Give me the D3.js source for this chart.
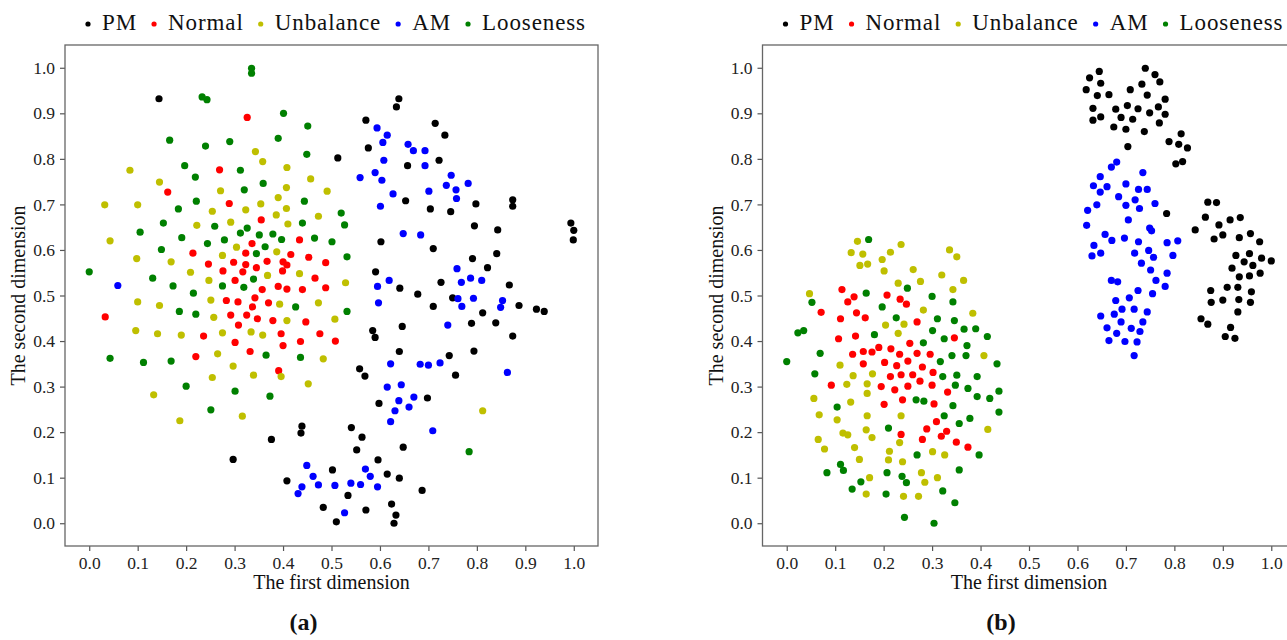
<!DOCTYPE html>
<html>
<head>
<meta charset="utf-8">
<script src="https://cdn.jsdelivr.net/npm/d3@7/dist/d3.min.js"></script>
<style>
  body { margin: 0; background: #fff; }
  text { font-family: 'Liberation Serif', 'Times New Roman', serif; fill: #111; }
</style>
</head>
<body>
<div id="chart"></div>
<script>
const classNames = ['PM', 'Normal', 'Unbalance', 'AM', 'Looseness']
const classColors = ['#000000', '#ff0000', '#bfbf00', '#0000ff', '#008000']
const tickValues = [0, 0.1, 0.2, 0.3, 0.4, 0.5, 0.6, 0.7, 0.8, 0.9, 1.0]
const xTitle = 'The first dimension'
const yTitle = 'The second dimension'
const captions = ['(a)', '(b)']

// panel (a)
const aPM = [[0.144,0.932],[0.513,0.802],[0.639,0.932],[0.634,0.914],[0.571,0.885],[0.714,0.878],[0.734,0.852],[0.576,0.824],[0.722,0.797],[0.657,0.785],[0.653,0.708],[0.704,0.690],[0.746,0.684],[0.798,0.701],[0.874,0.710],[0.874,0.696],[0.795,0.653],[0.843,0.644],[0.994,0.659],[1.000,0.643],[0.999,0.622],[0.602,0.618],[0.710,0.603],[0.791,0.581],[0.841,0.592],[0.822,0.561],[0.591,0.552],[0.439,0.213],[0.437,0.198],[0.376,0.184],[0.297,0.140],[0.408,0.093],[0.483,0.035],[0.641,0.516],[0.726,0.529],[0.867,0.523],[0.678,0.503],[0.750,0.495],[0.710,0.476],[0.887,0.478],[0.923,0.470],[0.939,0.465],[0.812,0.462],[0.585,0.423],[0.590,0.408],[0.646,0.432],[0.789,0.439],[0.839,0.440],[0.874,0.411],[0.640,0.377],[0.743,0.368],[0.794,0.378],[0.756,0.325],[0.558,0.339],[0.569,0.323],[0.698,0.275],[0.598,0.263],[0.541,0.210],[0.563,0.189],[0.552,0.161],[0.648,0.167],[0.596,0.139],[0.502,0.117],[0.615,0.108],[0.640,0.099],[0.687,0.072],[0.534,0.061],[0.571,0.029],[0.624,0.042],[0.633,0.018],[0.629,0.000],[0.510,0.003]]
const aNormal = [[0.326,0.891],[0.269,0.776],[0.162,0.727],[0.289,0.702],[0.355,0.666],[0.434,0.622],[0.336,0.614],[0.214,0.593],[0.323,0.593],[0.416,0.590],[0.453,0.584],[0.246,0.569],[0.298,0.573],[0.323,0.568],[0.345,0.561],[0.367,0.575],[0.400,0.574],[0.408,0.567],[0.488,0.572],[0.276,0.554],[0.317,0.552],[0.399,0.554],[0.466,0.538],[0.301,0.533],[0.357,0.513],[0.390,0.520],[0.408,0.514],[0.440,0.513],[0.488,0.517],[0.342,0.495],[0.283,0.489],[0.307,0.486],[0.337,0.475],[0.370,0.484],[0.033,0.453],[0.292,0.457],[0.325,0.457],[0.347,0.449],[0.379,0.445],[0.447,0.442],[0.308,0.435],[0.236,0.411],[0.396,0.416],[0.476,0.416],[0.301,0.397],[0.400,0.390],[0.436,0.399],[0.508,0.400],[0.332,0.377],[0.220,0.366],[0.391,0.335]]
const aUnbalance = [[0.343,0.816],[0.084,0.775],[0.358,0.794],[0.408,0.781],[0.457,0.756],[0.145,0.749],[0.271,0.730],[0.407,0.737],[0.491,0.729],[0.032,0.699],[0.100,0.699],[0.354,0.701],[0.390,0.715],[0.254,0.685],[0.323,0.688],[0.407,0.691],[0.386,0.677],[0.473,0.674],[0.222,0.654],[0.292,0.661],[0.410,0.657],[0.043,0.620],[0.304,0.606],[0.387,0.596],[0.098,0.581],[0.169,0.574],[0.275,0.588],[0.209,0.551],[0.434,0.548],[0.247,0.533],[0.368,0.544],[0.100,0.486],[0.145,0.478],[0.251,0.490],[0.393,0.481],[0.473,0.484],[0.257,0.452],[0.408,0.445],[0.507,0.448],[0.096,0.423],[0.141,0.416],[0.190,0.413],[0.275,0.418],[0.334,0.420],[0.358,0.413],[0.265,0.372],[0.483,0.361],[0.297,0.345],[0.396,0.322],[0.339,0.325],[0.254,0.320],[0.452,0.306],[0.133,0.282],[0.316,0.235],[0.187,0.225],[0.529,0.528],[0.812,0.247]]
const aAM = [[0.059,0.522],[0.449,0.127],[0.462,0.103],[0.473,0.084],[0.507,0.083],[0.439,0.080],[0.431,0.065],[0.594,0.868],[0.615,0.852],[0.606,0.836],[0.658,0.832],[0.669,0.818],[0.693,0.818],[0.608,0.797],[0.693,0.785],[0.559,0.759],[0.590,0.770],[0.604,0.753],[0.747,0.764],[0.782,0.746],[0.737,0.742],[0.757,0.732],[0.758,0.713],[0.627,0.723],[0.701,0.729],[0.601,0.696],[0.648,0.636],[0.684,0.633],[0.759,0.559],[0.619,0.533],[0.787,0.538],[0.810,0.533],[0.595,0.520],[0.768,0.529],[0.761,0.493],[0.793,0.494],[0.853,0.489],[0.597,0.484],[0.769,0.476],[0.849,0.474],[0.740,0.435],[0.622,0.350],[0.683,0.349],[0.700,0.347],[0.724,0.352],[0.863,0.331],[0.615,0.299],[0.644,0.304],[0.670,0.277],[0.639,0.269],[0.660,0.255],[0.631,0.247],[0.622,0.223],[0.709,0.203],[0.570,0.119],[0.580,0.103],[0.540,0.088],[0.560,0.085],[0.595,0.080],[0.527,0.023]]
const aLooseness = [[0.335,0.999],[0.335,0.988],[0.233,0.936],[0.243,0.930],[0.401,0.900],[0.451,0.872],[0.166,0.841],[0.240,0.828],[0.290,0.838],[0.390,0.845],[0.449,0.810],[0.197,0.785],[0.312,0.775],[0.219,0.760],[0.320,0.732],[0.359,0.746],[0.221,0.707],[0.444,0.707],[0.184,0.690],[0.520,0.681],[0.153,0.659],[0.259,0.652],[0.326,0.648],[0.440,0.659],[0.105,0.639],[0.312,0.637],[0.351,0.633],[0.379,0.635],[0.397,0.623],[0.465,0.626],[0.501,0.618],[0.191,0.627],[0.244,0.614],[0.279,0.622],[0.363,0.607],[0.149,0.601],[0.345,0.592],[0.000,0.552],[0.131,0.538],[0.339,0.536],[0.527,0.655],[0.532,0.585],[0.173,0.521],[0.275,0.521],[0.319,0.518],[0.215,0.505],[0.426,0.475],[0.186,0.465],[0.220,0.459],[0.043,0.362],[0.112,0.353],[0.169,0.356],[0.365,0.369],[0.436,0.364],[0.200,0.301],[0.301,0.290],[0.373,0.279],[0.251,0.249],[0.532,0.465],[0.784,0.157]]

// panel (b)
const bPM = [[0.740,0.999],[0.760,0.985],[0.770,0.969],[0.645,0.992],[0.625,0.978],[0.648,0.966],[0.618,0.952],[0.733,0.964],[0.709,0.952],[0.641,0.939],[0.665,0.941],[0.744,0.940],[0.781,0.931],[0.632,0.911],[0.679,0.909],[0.703,0.917],[0.725,0.910],[0.767,0.914],[0.749,0.901],[0.781,0.898],[0.632,0.885],[0.648,0.892],[0.690,0.891],[0.714,0.887],[0.769,0.879],[0.675,0.870],[0.700,0.865],[0.738,0.860],[0.814,0.855],[0.789,0.838],[0.809,0.832],[0.827,0.824],[0.704,0.827],[0.803,0.789],[0.817,0.794],[0.784,0.680],[0.869,0.705],[0.887,0.704],[0.864,0.672],[0.892,0.655],[0.915,0.666],[0.936,0.671],[0.843,0.644],[0.882,0.624],[0.900,0.633],[0.934,0.627],[0.957,0.636],[0.976,0.618],[0.927,0.588],[0.955,0.592],[0.944,0.574],[0.980,0.582],[1.000,0.576],[0.919,0.560],[0.962,0.566],[0.934,0.541],[0.955,0.543],[0.977,0.549],[0.875,0.511],[0.909,0.518],[0.931,0.518],[0.959,0.508],[0.876,0.485],[0.900,0.490],[0.933,0.491],[0.957,0.485],[0.931,0.464],[0.855,0.449],[0.869,0.437],[0.916,0.430],[0.905,0.410],[0.925,0.406]]
const bNormal = [[0.114,0.513],[0.139,0.497],[0.126,0.486],[0.207,0.501],[0.234,0.492],[0.247,0.481],[0.071,0.463],[0.144,0.462],[0.111,0.449],[0.162,0.451],[0.269,0.442],[0.142,0.411],[0.107,0.405],[0.346,0.407],[0.254,0.395],[0.190,0.386],[0.215,0.383],[0.158,0.377],[0.176,0.376],[0.136,0.371],[0.233,0.371],[0.269,0.373],[0.296,0.371],[0.250,0.356],[0.202,0.353],[0.158,0.350],[0.227,0.346],[0.280,0.343],[0.236,0.326],[0.260,0.326],[0.302,0.331],[0.214,0.322],[0.275,0.312],[0.092,0.303],[0.195,0.300],[0.250,0.301],[0.300,0.303],[0.223,0.293],[0.332,0.288],[0.239,0.271],[0.201,0.261],[0.304,0.262],[0.309,0.223],[0.289,0.207],[0.330,0.202],[0.236,0.195],[0.319,0.191],[0.280,0.184],[0.350,0.178],[0.374,0.167]]
const bUnbalance = [[0.146,0.619],[0.133,0.594],[0.157,0.591],[0.151,0.566],[0.167,0.569],[0.197,0.579],[0.201,0.554],[0.214,0.595],[0.236,0.612],[0.261,0.557],[0.276,0.531],[0.230,0.527],[0.320,0.545],[0.336,0.600],[0.351,0.585],[0.365,0.533],[0.343,0.513],[0.047,0.504],[0.282,0.468],[0.384,0.461],[0.204,0.435],[0.242,0.437],[0.230,0.417],[0.407,0.368],[0.110,0.347],[0.177,0.328],[0.137,0.324],[0.124,0.305],[0.166,0.306],[0.166,0.285],[0.056,0.274],[0.132,0.266],[0.067,0.238],[0.166,0.236],[0.236,0.236],[0.104,0.227],[0.164,0.205],[0.415,0.206],[0.116,0.198],[0.126,0.194],[0.176,0.188],[0.065,0.184],[0.233,0.177],[0.078,0.163],[0.140,0.166],[0.212,0.158],[0.301,0.157],[0.326,0.150],[0.150,0.140],[0.210,0.139],[0.239,0.135],[0.278,0.111],[0.171,0.100],[0.311,0.100],[0.285,0.090],[0.164,0.064],[0.241,0.059],[0.272,0.059]]
const bAM = [[0.681,0.793],[0.670,0.782],[0.735,0.770],[0.647,0.761],[0.633,0.741],[0.661,0.739],[0.700,0.745],[0.647,0.727],[0.726,0.733],[0.744,0.733],[0.685,0.717],[0.719,0.710],[0.640,0.699],[0.700,0.698],[0.728,0.691],[0.760,0.702],[0.621,0.687],[0.705,0.666],[0.619,0.654],[0.749,0.648],[0.753,0.642],[0.657,0.634],[0.671,0.621],[0.697,0.626],[0.726,0.618],[0.785,0.616],[0.807,0.620],[0.634,0.610],[0.630,0.587],[0.648,0.593],[0.718,0.593],[0.747,0.599],[0.757,0.584],[0.797,0.588],[0.732,0.571],[0.751,0.556],[0.785,0.549],[0.670,0.533],[0.683,0.530],[0.762,0.533],[0.781,0.520],[0.725,0.511],[0.755,0.504],[0.707,0.495],[0.679,0.489],[0.692,0.470],[0.717,0.470],[0.744,0.464],[0.648,0.455],[0.676,0.459],[0.690,0.442],[0.735,0.442],[0.661,0.429],[0.711,0.428],[0.729,0.421],[0.681,0.417],[0.665,0.401],[0.698,0.399],[0.723,0.398],[0.717,0.368]]
const bLooseness = [[0.169,0.623],[0.249,0.516],[0.052,0.485],[0.164,0.505],[0.197,0.475],[0.300,0.498],[0.343,0.486],[0.226,0.451],[0.311,0.449],[0.346,0.445],[0.023,0.418],[0.035,0.423],[0.301,0.423],[0.366,0.426],[0.390,0.427],[0.181,0.414],[0.414,0.410],[0.325,0.405],[0.282,0.396],[0.372,0.390],[0.069,0.373],[0.341,0.368],[0.370,0.368],[0.000,0.355],[0.317,0.355],[0.434,0.350],[0.058,0.328],[0.322,0.322],[0.351,0.325],[0.393,0.322],[0.348,0.303],[0.374,0.296],[0.438,0.290],[0.393,0.278],[0.419,0.274],[0.267,0.271],[0.283,0.268],[0.343,0.258],[0.104,0.255],[0.438,0.244],[0.325,0.236],[0.378,0.230],[0.356,0.219],[0.210,0.209],[0.269,0.150],[0.397,0.150],[0.111,0.129],[0.117,0.116],[0.083,0.111],[0.207,0.111],[0.356,0.117],[0.238,0.103],[0.153,0.091],[0.247,0.089],[0.322,0.071],[0.135,0.075],[0.205,0.064],[0.347,0.045],[0.243,0.013],[0.304,0.000]]

const panelSeries = [
  [aPM, aNormal, aUnbalance, aAM, aLooseness],
  [bPM, bNormal, bUnbalance, bAM, bLooseness]
]

const width = 1287
const height = 640
const plotTop = 45
const plotHeight = 501
const plotWidth = 533
const panelLefts = [65, 762.5]

const svg = d3
  .select('#chart')
  .append('svg')
  .attr('width', width)
  .attr('height', height)

svg.append('rect').attr('width', width).attr('height', height).attr('fill', '#fff')

const xScale = d3.scaleLinear().domain([-0.05, 1.05]).range([0, plotWidth])
const yScale = d3.scaleLinear().domain([-0.05, 1.05]).range([plotHeight, 0])

panelSeries.forEach((series, i) => {
  const g = svg
    .append('g')
    .attr('transform', 'translate(' + panelLefts[i] + ',' + plotTop + ')')

  // axes
  const xAxis = d3.axisBottom(xScale).tickValues(tickValues).tickFormat(d3.format('.1f')).tickSize(5).tickPadding(6)
  const yAxis = d3.axisLeft(yScale).tickValues(tickValues).tickFormat(d3.format('.1f')).tickSize(5).tickPadding(5)

  g.append('g')
    .attr('class', 'x-axis')
    .attr('transform', 'translate(0,' + plotHeight + ')')
    .call(xAxis)

  g.append('g')
    .attr('class', 'y-axis')
    .call(yAxis)

  g.selectAll('.domain').remove()
  g.selectAll('.tick line').attr('stroke', '#555').attr('stroke-width', 1.2)
  g.selectAll('.tick text')
    .attr('font-size', 17.5)
    .style('fill', '#222')

  // frame
  g.append('rect')
    .attr('x', 0)
    .attr('y', 0)
    .attr('width', plotWidth)
    .attr('height', plotHeight)
    .attr('fill', 'none')
    .attr('stroke', '#666')
    .attr('stroke-width', 1.3)

  // points, drawn class by class like the original
  series.forEach((pts, k) => {
    g.selectAll('.pt-' + k)
      .data(pts)
      .enter()
      .append('circle')
      .attr('class', 'pt-' + k)
      .attr('cx', d => xScale(d[0]))
      .attr('cy', d => yScale(d[1]))
      .attr('r', 3.6)
      .attr('fill', classColors[k])
  })

  // axis titles
  g.append('text')
    .attr('x', plotWidth / 2)
    .attr('y', plotHeight + 43)
    .attr('text-anchor', 'middle')
    .attr('font-size', 20)
    .text(xTitle)

  g.append('text')
    .attr('transform', 'translate(' + -40 + ',' + plotHeight / 2 + ') rotate(-90)')
    .attr('text-anchor', 'middle')
    .attr('font-size', 20)
    .text(yTitle)

  // caption
  g.append('text')
    .attr('x', plotWidth / 2 - 28)
    .attr('y', 585)
    .attr('text-anchor', 'middle')
    .attr('font-size', 24)
    .attr('font-weight', 700)
    .text(captions[i])

  // legend above the plot
  const legend = g.append('g').attr('transform', 'translate(0,' + -21 + ')')
  let cursor = 23
  classNames.forEach((name, k) => {
    legend.append('circle')
      .attr('cx', cursor)
      .attr('cy', 0)
      .attr('r', 2.6)
      .attr('fill', classColors[k])
    const t = legend.append('text')
      .attr('x', cursor + 14)
      .attr('y', 6)
      .attr('font-size', 23)
      .attr('letter-spacing', 0.9)
      .text(name)
    cursor += 14 + t.node().getComputedTextLength() + 17
  })
})
</script>
</body>
</html>
